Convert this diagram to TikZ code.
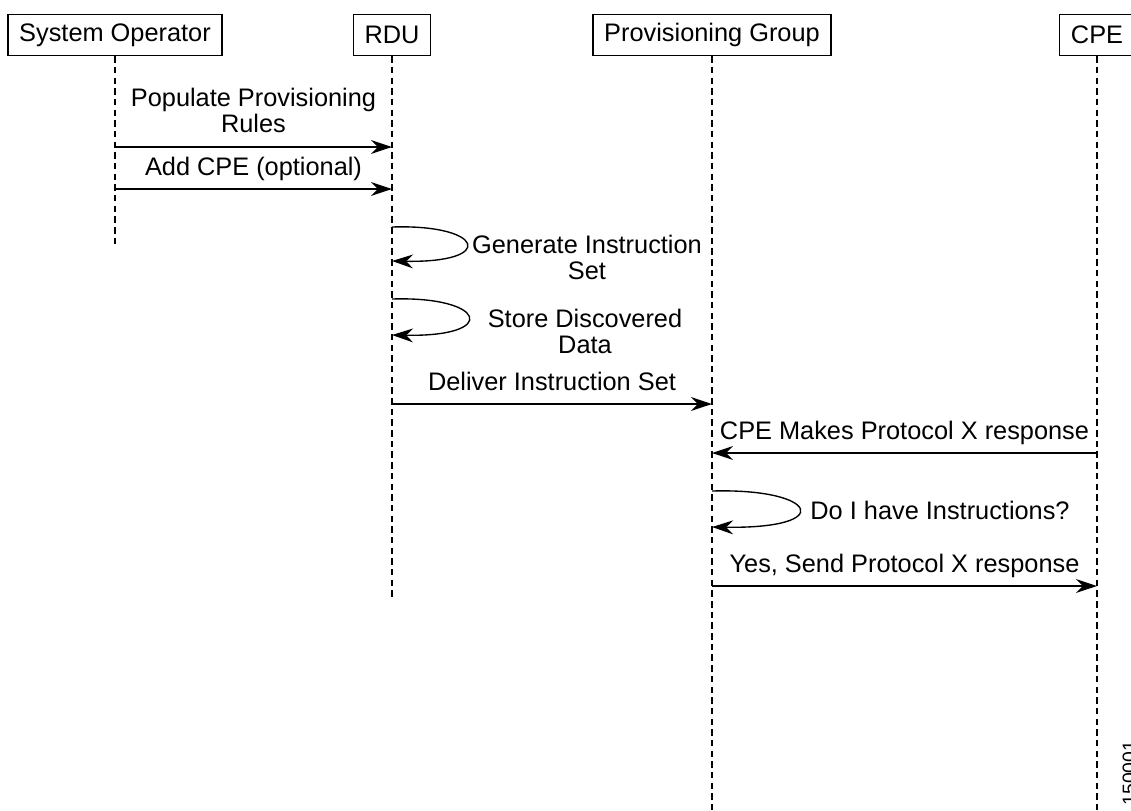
\documentclass[tikz,border=0pt]{standalone}
\usepackage{fontspec}
\setmainfont{Liberation Sans}
\usetikzlibrary{arrows.meta}

\begin{document}
\begin{tikzpicture}[x=0.014147cm, y=-0.014147cm,
		every node/.style={font=\fontsize{10.2}{10.6}\selectfont},
		actor/.style={draw, line width=0.5pt, inner xsep=4.5pt, minimum height=0.58cm},
		life/.style={line width=0.55pt, dash pattern=on 2.6pt off 1.7pt},
		msg/.style={line width=0.55pt, -{Stealth[length=8.5pt, width=5.6pt, inset=2.8pt]}},
		lbl/.style={align=center, text depth=0pt, inner sep=0pt}]
		\useasboundingbox (0,0) rectangle (1131,810);
		\node[actor] (so) at (115,35) {System Operator};
		\node[actor] (rdu) at (392,35) {RDU};
		\node[actor] (pg) at (712,35) {Provisioning Group};
		\node[actor] (cpe) at (1097,35) {CPE};
		\coordinate (so-end) at (115,245);
		\coordinate (rdu-end) at (392,597);
		\coordinate (pg-end) at (712,810);
		\coordinate (cpe-end) at (1097,810);
		\draw[life] (so) -- (so-end);
		\draw[life] (rdu) -- (rdu-end);
		\draw[life] (pg) -- (pg-end);
		\draw[life] (cpe) -- (cpe-end);
		\draw[msg] (so |- 0,147) -- (rdu |- 0,147) node[lbl, midway, above=5.4pt] (populate) {Populate Provisioning\\Rules};
		\draw[msg] (so |- 0,189) -- (rdu |- 0,189) node[lbl, midway, above=5pt] (addcpe) {Add CPE (optional)};
		\draw[msg] (rdu |- 0,227) .. controls (484,224) and (497,263) .. (rdu |- 0,261);
		\node[lbl] (generate) at (587,257) {Generate Instruction\\Set};
		\draw[msg] (rdu |- 0,299) .. controls (486,296) and (500,337) .. (rdu |- 0,335);
		\node[lbl] (store) at (585,331) {Store Discovered\\Data};
		\draw[msg] (rdu |- 0,404) -- (pg |- 0,404) node[lbl, midway, above=5pt] (deliver) {Deliver Instruction Set};
		\draw[msg] (cpe |- 0,453) -- (pg |- 0,453) node[lbl, midway, above=5pt] (cperesp) {CPE Makes Protocol X response};
		\draw[msg] (pg |- 0,491) .. controls (818,488) and (837,529) .. (pg |- 0,527);
		\node[lbl] (haveinstr) at (940,510) {Do I have Instructions?};
		\draw[msg] (pg |- 0,586) -- (cpe |- 0,586) node[lbl, midway, above=5pt] (sendresp) {Yes, Send Protocol X response};
		\node[inner sep=0pt, rotate=90, anchor=base west, font=\fontsize{7.8}{9}\selectfont] (fignum) at (1136,806) {150001};
	\end{tikzpicture}
\end{document}
